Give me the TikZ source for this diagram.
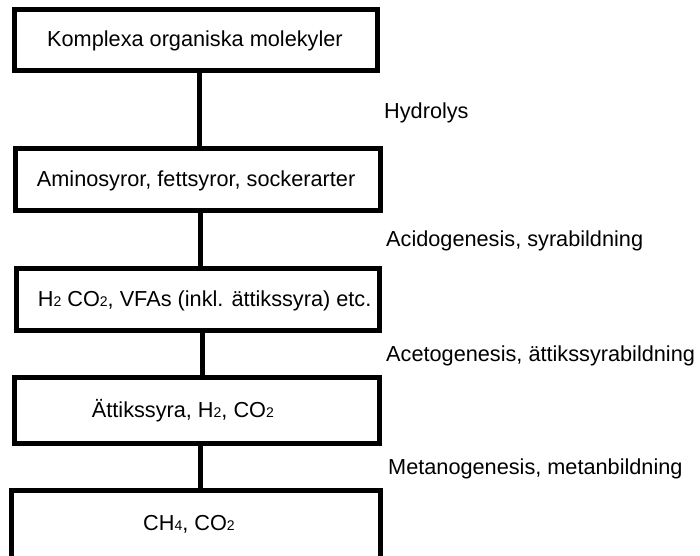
\documentclass[tikz,border=0pt]{standalone}
\usepackage{fontspec}
\setmainfont{Liberation Sans}
\newcommand{\subs}[1]{{\fontsize{14}{14}\selectfont #1}}
\begin{document}
\begin{tikzpicture}[x=1pt,y=-1pt,
  stagebox/.style={draw=black,line width=5pt,inner sep=0pt},
  link/.style={draw=black,line width=5pt},
  txt/.style={anchor=base west,inner sep=0pt,font=\fontsize{21.7}{24}\selectfont}]
\clip (0,0) rectangle (700,555);
\useasboundingbox (0,0) rectangle (700,555);
% boxes (line centres)
\node[stagebox,minimum width=363pt,minimum height=61pt] (b1) at (196,40) {};
\node[stagebox,minimum width=365pt,minimum height=62pt] (b2) at (198,179.5) {};
\node[stagebox,minimum width=363pt,minimum height=62pt] (b3) at (198,299.5) {};
\node[stagebox,minimum width=365pt,minimum height=66pt] (b4) at (197,410.5) {};
\node[stagebox,minimum width=369pt,minimum height=80pt] (b5) at (196,530.5) {};
% connectors
\draw[link] (b1.south -| 199.5,0) -- (b2.north -| 199.5,0);
\draw[link] (b2.south -| 200,0) -- (b3.north -| 200,0);
\draw[link] (b3.south -| 202,0) -- (b4.north -| 202,0);
\draw[link] (b4.south -| 200,0) -- (b5.north -| 200,0);
% box texts
\node[txt] (t1) at (47,46.7) {Komplexa organiska molekyler};
\node[txt] (t2) at (36.7,186) {Aminosyror, fettsyror, sockerarter};
\node[txt] (t3) at (37.7,306.7) {H\subs{2} CO\subs{2}, VFAs (inkl. ättikssyra) etc.};
\node[txt] (t4) at (91.7,417) {Ättikssyra, H\subs{2}, CO\subs{2}};
\node[txt] (t5) at (143,530) {CH\subs{4}, CO\subs{2}};
% process labels
\node[txt] (l1) at (384,118) {Hydrolys};
\node[txt] (l2) at (386,246.7) {Acidogenesis, syrabildning};
\node[txt] (l3) at (386,361) {Acetogenesis, ättikssyrabildning};
\node[txt] (l4) at (388,474) {Metanogenesis, metanbildning};
\end{tikzpicture}
\end{document}
